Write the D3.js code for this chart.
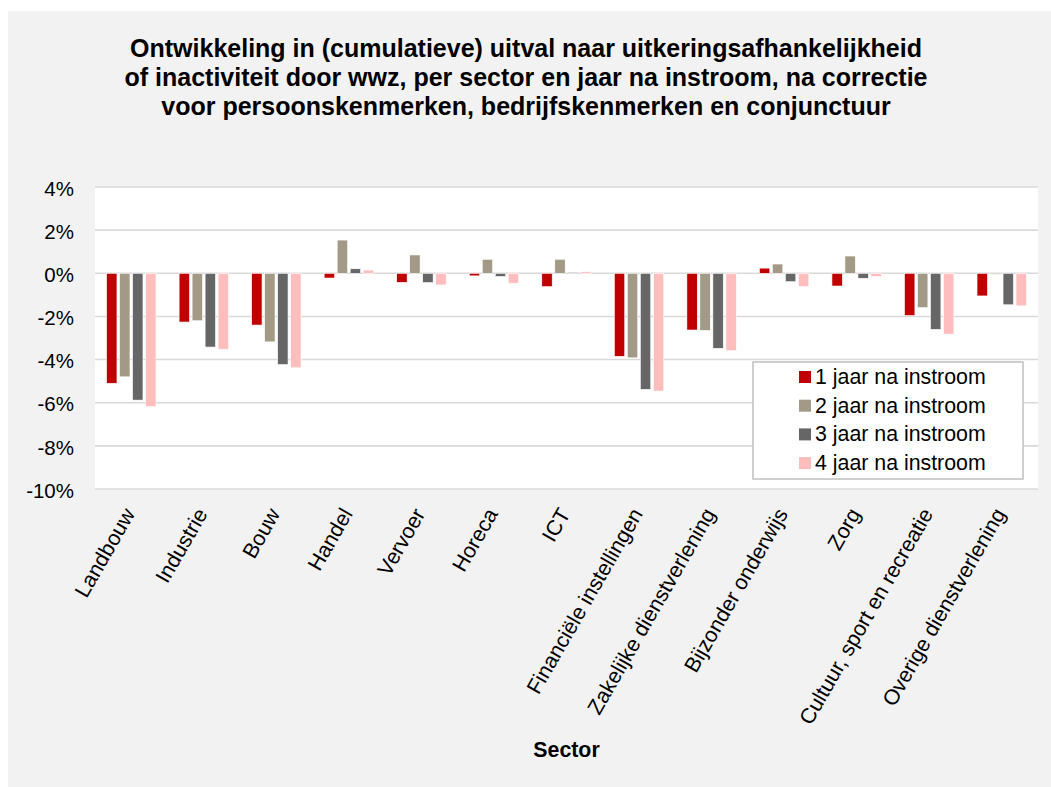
<!DOCTYPE html>
<html>
<head>
<meta charset="utf-8">
<script src="https://cdn.jsdelivr.net/npm/d3@7"></script>
<style>
  html, body { margin: 0; padding: 0; background: #fff; }
  svg { display: block; font-family: Arial, "Liberation Sans", sans-serif; }
</style>
</head>
<body>
<svg id="chart" width="1051" height="787"></svg>
<script>
const sectors = [
  'Landbouw', 'Industrie', 'Bouw', 'Handel', 'Vervoer', 'Horeca', 'ICT',
  'Financiële instellingen', 'Zakelijke dienstverlening', 'Bijzonder onderwijs',
  'Zorg', 'Cultuur, sport en recreatie', 'Overige dienstverlening'
];
const seriesNames = ['1 jaar na instroom', '2 jaar na instroom', '3 jaar na instroom', '4 jaar na instroom'];

// values in %
const jaar1 = [-5.1, -2.26, -2.4, -0.22, -0.42, -0.12, -0.62, -3.85, -2.63, 0.24, -0.59, -1.96, -1.05];
const jaar2 = [-4.8, -2.2, -3.18, 1.54, 0.85, 0.65, 0.65, -3.92, -2.65, 0.43, 0.8, -1.59, -0.05];
const jaar3 = [-5.88, -3.42, -4.23, 0.21, -0.43, -0.15, 0.04, -5.38, -3.48, -0.39, -0.23, -2.6, -1.46];
const jaar4 = [-6.18, -3.52, -4.38, 0.15, -0.54, -0.46, 0.07, -5.46, -3.59, -0.62, -0.15, -2.82, -1.51];
const yTicks = [4, 2, 0, -2, -4, -6, -8, -10];

const titleLines = [
  'Ontwikkeling in (cumulatieve) uitval naar uitkeringsafhankelijkheid',
  'of inactiviteit door wwz, per sector en jaar na instroom, na correctie',
  'voor persoonskenmerken, bedrijfskenmerken en conjunctuur'
];

const colors = ['#c00000', '#a29a86', '#666666', '#ffbdbd'];
const allSeries = [jaar1, jaar2, jaar3, jaar4];

const svg = d3.select('#chart');

// outer chart background
svg.append('rect')
  .attr('x', 8).attr('y', 11)
  .attr('width', 1051 - 8).attr('height', 787 - 11)
  .attr('fill', '#f2f2f2');

const plot = { left: 95, right: 1038, top: 187, bottom: 489 };

svg.append('rect')
  .attr('x', plot.left).attr('y', plot.top)
  .attr('width', plot.right - plot.left).attr('height', plot.bottom - plot.top)
  .attr('fill', '#fff');

const x0 = d3.scaleBand()
  .domain(sectors)
  .range([plot.left, plot.right])
  .paddingInner(0.283)
  .paddingOuter(0.1415);

const x1 = d3.scaleBand()
  .domain(seriesNames)
  .range([0, x0.bandwidth()])
  .paddingInner(0.2)
  .paddingOuter(0.1);

const y = d3.scaleLinear().domain([-10, 4]).range([plot.bottom, plot.top]);

// gridlines
svg.append('g')
  .selectAll('line')
  .data(yTicks)
  .join('line')
  .attr('x1', plot.left).attr('x2', plot.right)
  .attr('y1', d => y(d)).attr('y2', d => y(d))
  .attr('stroke', '#d9d9d9')
  .attr('stroke-width', 1.6);

// y axis labels
const yAxis = d3.axisLeft(y)
  .tickValues(yTicks)
  .tickFormat(d => d + '%')
  .tickSize(0)
  .tickPadding(0);

svg.append('g')
  .attr('transform', `translate(${plot.left - 21},0)`)
  .call(yAxis)
  .call(g => g.select('.domain').remove())
  .call(g => g.selectAll('text')
    .attr('font-size', 20.5)
    .attr('font-family', 'Arial, "Liberation Sans", sans-serif')
    .attr('fill', '#000')
    .attr('dy', '0.4em'));

// bars
const rows = sectors.map((s, i) => ({
  sector: s,
  values: seriesNames.map((n, k) => ({ name: n, k, value: allSeries[k][i] }))
}));

svg.append('g')
  .selectAll('g')
  .data(rows)
  .join('g')
  .attr('transform', d => `translate(${x0(d.sector)},0)`)
  .selectAll('rect')
  .data(d => d.values)
  .join('rect')
  .attr('x', d => x1(d.name))
  .attr('width', x1.bandwidth())
  .attr('y', d => y(Math.max(0, d.value)))
  .attr('height', d => Math.abs(y(d.value) - y(0)))
  .attr('fill', d => colors[d.k])
  .attr('stroke', '#fff')
  .attr('stroke-width', 0.6);

// category labels (rotated)
svg.append('g')
  .selectAll('text')
  .data(sectors)
  .join('text')
  .attr('transform', d => `translate(${x0(d) + x0.bandwidth() / 2 - 2},510) rotate(-60)`)
  .attr('text-anchor', 'end')
  .attr('dy', '0.35em')
  .attr('font-size', 21.33)
  .attr('fill', '#000')
  .text(d => d);

// axis title
svg.append('text')
  .attr('x', (plot.left + plot.right) / 2)
  .attr('y', 757)
  .attr('text-anchor', 'middle')
  .attr('font-size', 21.33)
  .attr('font-weight', 'bold')
  .text('Sector');

// chart title
svg.append('g')
  .selectAll('text')
  .data(titleLines)
  .join('text')
  .attr('x', 526)
  .attr('y', (d, i) => 57 + i * 29.2)
  .attr('text-anchor', 'middle')
  .attr('font-size', 25)
  .attr('font-weight', 'bold')
  .text(d => d);

// legend
const legend = svg.append('g').attr('transform', 'translate(753,362)');
legend.append('rect')
  .attr('width', 270).attr('height', 117)
  .attr('fill', '#fff')
  .attr('stroke', '#bfbfbf')
  .attr('stroke-width', 1.5);

const item = legend.selectAll('g.item')
  .data(seriesNames)
  .join('g')
  .attr('class', 'item')
  .attr('transform', (d, i) => `translate(46,${22 + i * 28.7})`);

item.append('rect')
  .attr('y', -13).attr('width', 12).attr('height', 12)
  .attr('fill', (d, i) => colors[i]);

item.append('text')
  .attr('x', 16)
  .attr('font-size', 21.33)
  .attr('fill', '#000')
  .text(d => d);
</script>
</body>
</html>
